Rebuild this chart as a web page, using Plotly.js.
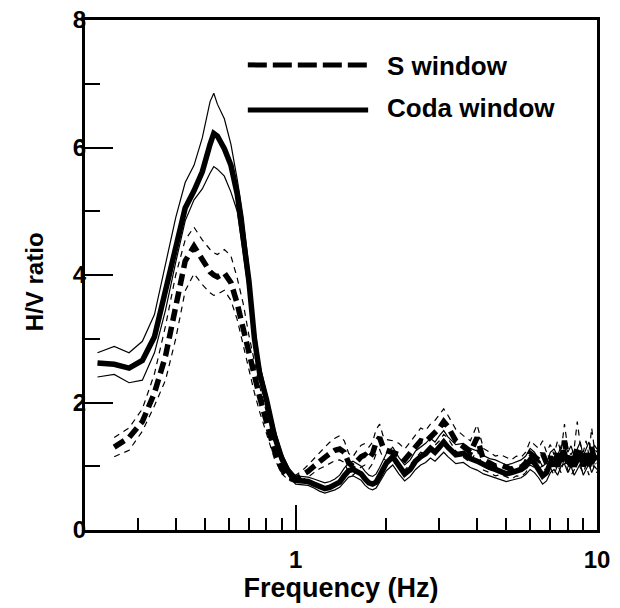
<!DOCTYPE html>
<html>
<head>
<meta charset="utf-8">
<script src="https://cdn.plot.ly/plotly-3.0.1.min.js"></script>
<style>html,body{margin:0;padding:0;background:#fff;}#chart{width:620px;height:608px;}</style>
</head>
<body>
<div id="chart"></div>
<script>
// Frequency samples (Hz)
const freq = [0.22,0.25,0.28,0.31,0.34,0.37,0.40,0.43,0.46,0.49,0.52,0.535,0.55,0.58,0.61,0.64,0.67,0.70,0.73,0.76,0.80,0.85,0.90,0.95,
  1.0,1.05,1.1,1.15,1.2,1.25,1.3,1.35,1.4,1.45,1.5,1.55,1.6,1.65,1.7,1.75,1.8,1.85,1.9,1.95,2.0,
  2.1,2.2,2.3,2.4,2.5,2.6,2.7,2.8,2.9,3.0,3.1,3.2,
  3.4,3.6,3.8,4.0,4.2,4.4,4.6,4.8,5.0,5.2,5.4,5.6,5.8,6.0,6.2,6.4,6.6,6.8,7.0,7.2,7.4,7.6,7.8,8.0,8.2,8.4,8.6,8.8,9.0,9.2,9.4,9.6,9.8,10.0];

// Coda window: mean, +sigma, -sigma
const codaMean = [2.62,2.60,2.54,2.66,3.03,3.77,4.45,5.05,5.32,5.62,6.05,6.22,6.18,5.98,5.72,5.27,4.58,3.9,3.0,2.45,2.05,1.48,1.12,0.9,
  0.78,0.77,0.76,0.72,0.68,0.65,0.67,0.70,0.75,0.85,0.93,0.95,0.92,0.88,0.80,0.74,0.72,0.75,0.85,0.95,1.05,
  1.15,1.0,0.88,0.95,1.08,1.15,1.2,1.28,1.22,1.3,1.38,1.3,
  1.18,1.2,1.12,1.08,1.02,0.98,0.95,0.92,0.88,0.9,0.92,0.95,1.0,1.1,1.05,0.95,0.85,0.9,1.05,1.1,1.0,1.15,1.2,1.05,1.15,1.0,1.1,1.2,1.0,1.1,1.2,1.05,1.15,1.1];
const codaHi = [2.78,2.88,2.78,2.96,3.38,4.15,4.9,5.45,5.72,6.15,6.72,6.85,6.68,6.45,6.05,5.5,4.9,4.1,3.2,2.6,2.15,1.6,1.2,0.97,
  0.85,0.84,0.83,0.8,0.77,0.74,0.76,0.8,0.86,0.97,1.05,1.08,1.04,1.0,0.92,0.86,0.84,0.88,0.98,1.1,1.2,
  1.3,1.14,1.02,1.1,1.24,1.3,1.36,1.44,1.38,1.48,1.56,1.46,
  1.34,1.36,1.28,1.24,1.17,1.12,1.1,1.06,1.02,1.04,1.07,1.1,1.16,1.28,1.22,1.1,1.0,1.05,1.22,1.27,1.16,1.32,1.38,1.22,1.32,1.16,1.27,1.38,1.16,1.28,1.38,1.22,1.33,1.27];
const codaLo = [2.40,2.44,2.31,2.35,2.78,3.45,4.2,4.85,5.18,5.35,5.6,5.7,5.66,5.55,5.3,5.0,4.35,3.7,2.85,2.35,1.95,1.42,1.05,0.84,
  0.72,0.71,0.7,0.66,0.61,0.58,0.6,0.63,0.67,0.76,0.83,0.85,0.82,0.78,0.7,0.65,0.63,0.66,0.75,0.84,0.93,
  1.02,0.88,0.77,0.84,0.95,1.02,1.06,1.13,1.08,1.15,1.22,1.15,
  1.04,1.06,0.98,0.94,0.88,0.85,0.82,0.8,0.76,0.78,0.8,0.82,0.87,0.95,0.9,0.82,0.72,0.77,0.9,0.95,0.86,1.0,1.04,0.9,1.0,0.86,0.95,1.04,0.86,0.95,1.04,0.9,1.0,0.95];

// S window: mean, +sigma, -sigma
const sMean = [null,1.30,1.45,1.70,2.15,2.73,3.52,4.22,4.45,4.25,4.05,4.0,3.97,4.03,3.88,3.55,3.15,2.75,2.4,2.08,1.7,1.25,0.95,0.82,
  0.80,0.85,0.92,1.0,1.08,1.14,1.2,1.25,1.27,1.22,1.05,1.0,1.08,1.15,1.18,1.12,1.2,1.38,1.45,1.3,1.25,
  1.22,1.18,1.1,1.2,1.3,1.4,1.38,1.45,1.52,1.6,1.7,1.62,
  1.4,1.3,1.22,1.45,1.1,1.05,1.0,1.02,0.98,0.95,1.0,0.98,1.05,1.2,1.15,1.1,1.2,1.05,1.15,1.0,1.2,1.05,1.4,1.1,1.0,1.1,1.3,1.15,1.05,1.2,1.0,1.3,1.1,1.05];
const sHi = [null,1.45,1.6,1.9,2.45,3.2,4.0,4.55,4.75,4.55,4.4,4.35,4.32,4.4,4.3,3.95,3.55,3.05,2.65,2.25,1.85,1.4,1.05,0.88,
  0.86,0.93,1.02,1.12,1.22,1.3,1.38,1.44,1.48,1.4,1.2,1.15,1.25,1.33,1.36,1.3,1.38,1.58,1.66,1.48,1.42,
  1.4,1.36,1.27,1.38,1.5,1.6,1.56,1.66,1.72,1.82,1.9,1.8,
  1.58,1.48,1.4,1.65,1.28,1.22,1.16,1.18,1.14,1.1,1.16,1.14,1.22,1.4,1.34,1.28,1.4,1.22,1.34,1.18,1.4,1.22,1.66,1.28,1.18,1.28,1.7,1.34,1.22,1.4,1.18,1.6,1.28,1.22];
const sLo = [null,1.15,1.25,1.55,1.95,2.35,3.0,3.75,4.02,3.85,3.72,3.68,3.7,3.76,3.6,3.3,2.9,2.5,2.15,1.85,1.5,1.12,0.88,0.78,
  0.74,0.78,0.83,0.9,0.96,1.0,1.05,1.09,1.1,1.06,0.9,0.86,0.93,0.99,1.02,0.96,1.04,1.2,1.26,1.13,1.08,
  1.06,1.02,0.94,1.03,1.12,1.22,1.2,1.26,1.33,1.4,1.5,1.44,
  1.24,1.14,1.06,1.26,0.94,0.9,0.85,0.87,0.83,0.8,0.85,0.84,0.9,1.02,0.98,0.94,1.02,0.9,0.98,0.86,1.02,0.9,1.16,0.94,0.86,0.94,1.1,0.98,0.9,1.02,0.86,1.1,0.94,0.9];

// Axis ticks
const xMajorTicks = [1, 10];
const xMajorLabels = ['1', '10'];
const xMinorTicks = [0.3,0.4,0.5,0.6,0.7,0.8,0.9,2,3,4,5,6,7,8,9];
const yMajorTicks = [0, 2, 4, 6, 8];
const yMinorTicks = [1, 3, 5, 7];
const seriesNames = ['S window', 'Coda window'];
const xTitle = 'Frequency (Hz)';
const yTitle = 'H/V ratio';

const FONT = 'Liberation Sans, Arial, Helvetica, sans-serif';

function line(y, width, dash, name) {
  return {x: freq, y: y, type: 'scatter', mode: 'lines', name: name, showlegend: false,
    line: {color: '#000', width: width, dash: dash}, connectgaps: false, hoverinfo: 'skip'};
}

const data = [
  line(sHi, 1.2, '6px,5px', 'S +σ'),
  line(sLo, 1.2, '6px,5px', 'S -σ'),
  line(codaHi, 1.2, 'solid', 'Coda +σ'),
  line(codaLo, 1.2, 'solid', 'Coda -σ'),
  line(codaMean, 5.5, 'solid', seriesNames[1]),
  line(sMean, 5.5, '12px,6px', seriesNames[0])
];

const tickFont = {family: FONT, size: 24, color: '#000', weight: 'bold'};

const layout = {
  width: 620, height: 608,
  margin: {l: 85, r: 23, t: 20, b: 78},
  paper_bgcolor: '#fff', plot_bgcolor: '#fff',
  showlegend: false,
  xaxis: {
    type: 'log', range: [Math.log10(0.2), 1],
    tickmode: 'array', tickvals: xMajorTicks, ticktext: xMajorLabels,
    ticks: 'inside', ticklen: 25, tickwidth: 2, tickcolor: '#000',
    minor: {tickmode: 'array', tickvals: xMinorTicks, ticks: 'inside', ticklen: 12, tickwidth: 2, tickcolor: '#000', showgrid: false},
    showline: true, linewidth: 3, linecolor: '#000', mirror: true,
    showgrid: false, zeroline: false,
    tickfont: tickFont, ticklabelstandoff: 6,
    title: {text: xTitle, font: {family: FONT, size: 27, color: '#000', weight: 'bold'}, standoff: 4}
  },
  yaxis: {
    range: [0, 8],
    tickmode: 'array', tickvals: yMajorTicks,
    ticks: 'inside', ticklen: 28, tickwidth: 2, tickcolor: '#000',
    minor: {tickmode: 'array', tickvals: yMinorTicks, ticks: 'inside', ticklen: 15, tickwidth: 2, tickcolor: '#000', showgrid: false},
    showline: true, linewidth: 3, linecolor: '#000', mirror: true,
    showgrid: false, zeroline: false,
    tickfont: tickFont, ticklabelstandoff: -9
  },
  shapes: [
    {type: 'line', xref: 'paper', yref: 'paper', x0: 0.318, x1: 0.553, y0: 0.912, y1: 0.912,
     line: {color: '#000', width: 5, dash: '19px,6px'}},
    {type: 'line', xref: 'paper', yref: 'paper', x0: 0.318, x1: 0.553, y0: 0.8235, y1: 0.8235,
     line: {color: '#000', width: 5}}
  ],
  annotations: [
    {xref: 'paper', yref: 'paper', x: 0.586, y: 0.910, xanchor: 'left', yanchor: 'middle', showarrow: false,
     text: seriesNames[0], font: {family: FONT, size: 26, color: '#000', weight: 'bold'}},
    {xref: 'paper', yref: 'paper', x: 0.586, y: 0.8275, xanchor: 'left', yanchor: 'middle', showarrow: false,
     text: seriesNames[1], font: {family: FONT, size: 26, color: '#000', weight: 'bold'}},
    {xref: 'paper', yref: 'paper', x: -0.0996, y: 0.486, xanchor: 'center', yanchor: 'middle', showarrow: false,
     textangle: -90, text: yTitle, font: {family: FONT, size: 24, color: '#000', weight: 'bold'}}
  ]
};

Plotly.newPlot('chart', data, layout, {staticPlot: true, displayModeBar: false});
</script>
</body>
</html>
